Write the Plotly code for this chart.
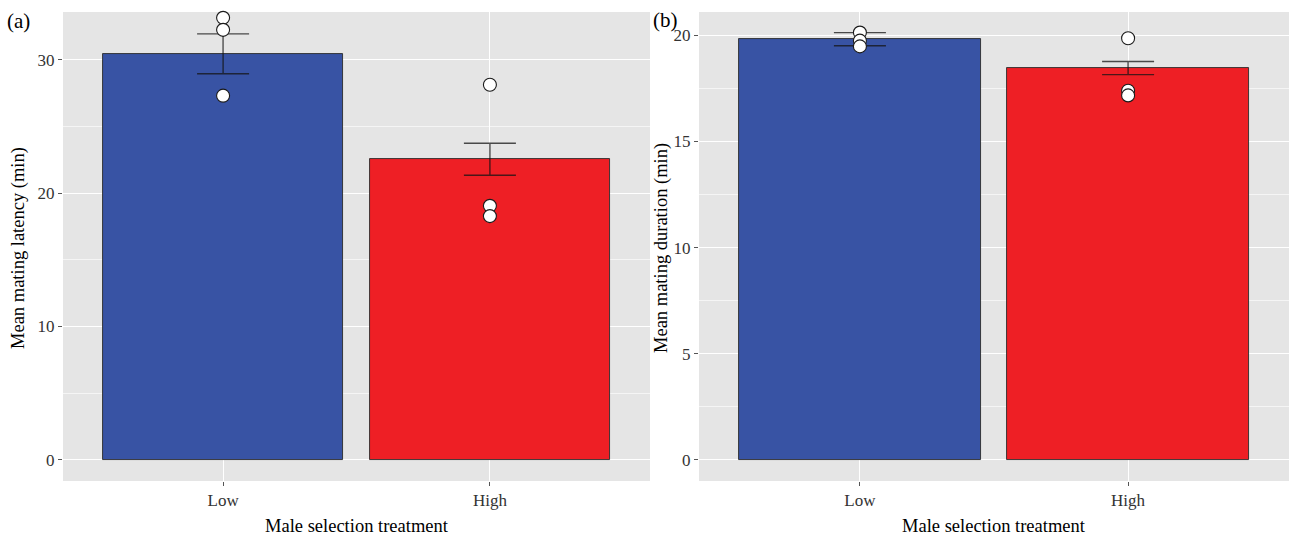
import plotly.graph_objects as go

# Treatment groups
categories = ["Low", "High"]
xpos = [0, 1]

# (a) mating latency (min)
latency_mean = [30.46, 22.55]
latency_se = [1.5, 1.2]
latency_low_pts = [33.16, 32.26, 27.32]
latency_high_pts = [28.14, 19.05, 18.28]

# (b) mating duration (min)
duration_mean = [19.82, 18.46]
duration_se = [0.31, 0.31]
duration_low_pts = [20.13, 19.75, 19.48]
duration_high_pts = [19.86, 17.39, 17.17]

bar_colors = ["#3853A4", "#EE1F25"]
FONT = "Liberation Serif"
W, H = 1290, 537

fig = go.Figure()


def add_panel(means, ses, low_pts, high_pts, xa, ya):
    fig.add_trace(go.Bar(
        x=xpos, y=means, width=0.9,
        marker=dict(color=bar_colors, line=dict(color="#2b2b2b", width=0.9)),
        error_y=dict(type="data", array=ses, visible=True,
                     color="rgba(20,20,20,0.75)", thickness=1.4, width=26),
        xaxis=xa, yaxis=ya, showlegend=False, hoverinfo="skip",
    ))
    px = [0] * len(low_pts) + [1] * len(high_pts)
    py = list(low_pts) + list(high_pts)
    fig.add_trace(go.Scatter(
        x=px, y=py, mode="markers",
        marker=dict(size=13, color="white", line=dict(color="#1a1a1a", width=1.1)),
        xaxis=xa, yaxis=ya, showlegend=False, hoverinfo="skip", cliponaxis=False,
    ))


add_panel(latency_mean, latency_se, latency_low_pts, latency_high_pts, "x", "y")
add_panel(duration_mean, duration_se, duration_low_pts, duration_high_pts, "x2", "y2")

ydom = [1 - 481 / H, 1 - 12 / H]

xcommon = dict(
    tickmode="array", tickvals=xpos, ticktext=categories,
    range=[-0.6, 1.6], showgrid=True, gridcolor="white", gridwidth=1.2,
    zeroline=False, ticks="outside", ticklen=4, tickcolor="#555555",
    tickfont=dict(family=FONT, size=17, color="#333333"), showline=False,
)
ycommon = dict(
    showgrid=True, gridcolor="white", gridwidth=1.2, zeroline=False,
    ticks="outside", ticklen=4, tickcolor="#555555",
    tickfont=dict(family=FONT, size=17, color="#333333"), showline=False,
)

fig.update_layout(
    width=W, height=H,
    margin=dict(l=0, r=0, t=0, b=0),
    paper_bgcolor="white", plot_bgcolor="#E5E5E5",
    bargap=0,
    xaxis=dict(domain=[63 / W, 650 / W], anchor="y", **xcommon),
    yaxis=dict(domain=ydom, anchor="x", range=[-1.6, 33.6],
               tickvals=[0, 10, 20, 30],
               minor=dict(tickvals=[5, 15, 25], showgrid=True,
                          gridcolor="rgba(255,255,255,0.6)", gridwidth=0.6, ticks=""),
               **ycommon),
    xaxis2=dict(domain=[699 / W, 1289 / W], anchor="y2", **xcommon),
    yaxis2=dict(domain=ydom, anchor="x2", range=[-1.0, 21.1],
                tickvals=[0, 5, 10, 15, 20],
                minor=dict(tickvals=[2.5, 7.5, 12.5, 17.5], showgrid=True,
                           gridcolor="rgba(255,255,255,0.6)", gridwidth=0.6, ticks=""),
                **ycommon),
)

title_font = dict(family=FONT, size=18.5, color="black")
annotations = [
    dict(text="Male selection treatment", x=(63 + 650) / 2 / W, y=1 - 526 / H,
         xref="paper", yref="paper", showarrow=False, font=title_font,
         xanchor="center", yanchor="middle"),
    dict(text="Male selection treatment", x=(699 + 1289) / 2 / W, y=1 - 526 / H,
         xref="paper", yref="paper", showarrow=False, font=title_font,
         xanchor="center", yanchor="middle"),
    dict(text="Mean mating latency (min)", x=19 / W, y=1 - 248 / H, textangle=-90,
         xref="paper", yref="paper", showarrow=False, font=title_font,
         xanchor="center", yanchor="middle"),
    dict(text="Mean mating duration (min)", x=662 / W, y=1 - 248 / H, textangle=-90,
         xref="paper", yref="paper", showarrow=False, font=title_font,
         xanchor="center", yanchor="middle"),
    dict(text="(a)", x=18 / W, y=1 - 21 / H, xref="paper", yref="paper",
         showarrow=False, font=dict(family=FONT, size=21, color="black"),
         xanchor="center", yanchor="middle"),
    dict(text="(b)", x=665 / W, y=1 - 20 / H, xref="paper", yref="paper",
         showarrow=False, font=dict(family=FONT, size=21, color="black"),
         xanchor="center", yanchor="middle"),
]
fig.update_layout(annotations=annotations)

fig.write_html("out.html")
